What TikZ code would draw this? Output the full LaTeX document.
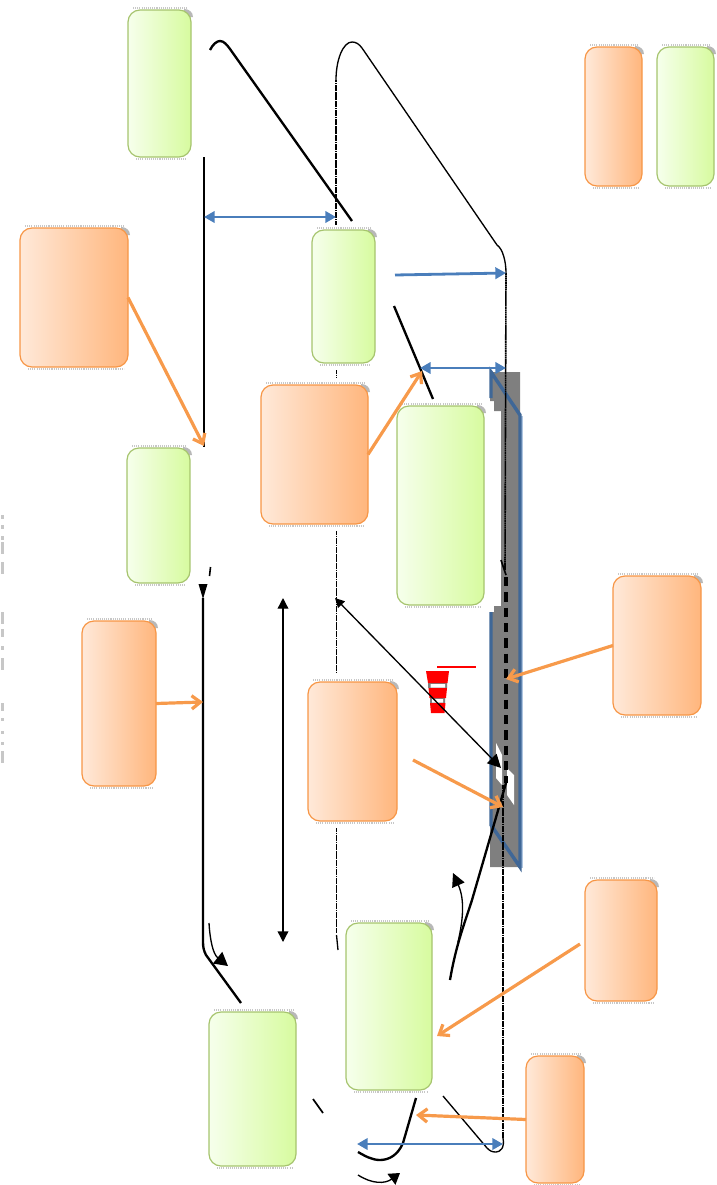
\documentclass[tikz,border=0pt]{standalone}
\usetikzlibrary{arrows.meta,calc}
\definecolor{gleft}{HTML}{F6FFEC}
\definecolor{gright}{HTML}{D7FB9F}
\definecolor{gline}{HTML}{A6C46E}
\definecolor{oleft}{HTML}{FFE9D9}
\definecolor{oright}{HTML}{FFB67D}
\definecolor{oline}{HTML}{F79646}
\definecolor{oarrow}{HTML}{F79A4B}
\definecolor{barrow}{HTML}{4A7EBB}
\definecolor{road}{HTML}{7F7F7F}
\definecolor{roadedge}{HTML}{3F6797}
\tikzset{
  box/.style={rounded corners=9pt,inner sep=0pt,outer sep=0pt,shading=axis,shading angle=90,line width=0.9pt},
  greenbox/.style={box,draw=gline,left color=gleft,right color=gright},
  orangebox/.style={box,draw=oline,left color=oleft,right color=oright},
  shadowline/.style={draw=black!22,line width=1.2pt,dash pattern=on 0.8pt off 0.8pt},
  orangearrow/.style={draw=oarrow,line width=2.4pt,-{Straight Barb[length=6.5pt,width=10pt]}},
  bluearrow/.style={draw=barrow,line width=2.1pt,{Triangle[length=8pt,width=8.5pt]}-{Triangle[length=8pt,width=8.5pt]}},
  bluearrowone/.style={draw=barrow,line width=2.1pt,-{Triangle[length=8pt,width=8.5pt]}},
  thickroad/.style={draw=black,line width=1.75pt},
  thinroad/.style={draw=black,line width=1pt},
  dottedroad/.style={draw=black,line width=1.2pt,dash pattern=on 1.4pt off 0.3pt},
  centerdash/.style={draw=black,line width=2.5pt,dash pattern=on 7pt off 4.5pt},
  roadedgeline/.style={draw=roadedge,line width=2.6pt,line join=miter},
  cone/.style={fill=red,draw=none},
  tickmark/.style={fill=black!22,draw=none},
}
\newcommand{\bx}[6]{%
  \draw[shadowline] (#3+5,#4-2) -- (#5-3,#4-2);
  \draw[shadowline] (#3+8,#6+2) -- (#5-4,#6+2);
  \fill[black!28] (#5-7,#4-1) .. controls (#5-2,#4-1) and (#5+2,#4+2) .. (#5+2,#4+7) -- (#5-2,#4+7) -- (#5-7,#4+3) -- cycle;
  \node[#1,minimum width={(#5-#3)*0.75pt},minimum height={(#6-#4)*0.75pt}] (#2) at ({(#3+#5)/2},{(#4+#6)/2}) {};
}
\begin{document}
\begin{tikzpicture}[x=0.75pt,y=-0.75pt]
\useasboundingbox (0,0) rectangle (717,1185);
% gray marks at the left edge
\foreach \yy/\hh in {517/4,527/4,538/4,548/12,568/12,618/12,633/8,648/4,664/12,707/8,719/3,732/3,743/3,757/12}
  \fill[tickmark] (0.5,\yy-\hh/2) rectangle (3.5,\yy+\hh/2);
% road
\fill[road] (490,372) -- (520,372) -- (520,867) -- (490,867) -- (490,612) -- (494,612) -- (494,606) -- (501,606) -- (501,411) -- (494,411) -- (494,401) -- (490,401) -- cycle;
\fill[white] (496,743) -- (502,755) -- (502,785) -- (496,778) -- cycle;
\fill[white] (507,768) -- (514,775) -- (514,805) -- (507,795) -- cycle;
\draw[draw=barrow!45,line width=0.9pt] (522,416) -- (522,868);
\draw[roadedgeline] (491,398) -- (491,372) -- (520,415) -- (520,867) -- (491,825) -- (491,612);
\draw[centerdash] (506,577) -- (506,783);
% cone
\fill[road] (428,683) rectangle (447,688) (430,698) rectangle (445,703);
\fill[cone] (426,671) -- (449,671) -- (447.5,683) -- (428,683) -- cycle;
\fill[cone] (428.5,688) -- (447,688) -- (446,698) -- (429.5,698) -- cycle;
\fill[cone] (430,703) -- (445.5,703) -- (444.5,713) -- (431,713) -- cycle;
\fill[white] (430.5,684) rectangle (445,687.5) (432,699) rectangle (443,702.5);
\fill[red] (437,666.2) rectangle (476,668.2);
% boxes
\bx{greenbox}{g1}{128}{10}{191}{157}
\bx{greenbox}{g2}{312}{230}{375}{363}
\bx{greenbox}{g3}{397}{406}{484}{605}
\bx{greenbox}{g4}{127}{448}{190}{583}
\bx{greenbox}{g5}{346}{923}{432}{1090}
\bx{greenbox}{g6}{209}{1012}{296}{1166}
\bx{greenbox}{g7}{657}{47}{714}{186}
\bx{orangebox}{o1}{20}{228}{128}{367}
\bx{orangebox}{o2}{261}{385}{368}{524}
\bx{orangebox}{o3}{82}{621}{156}{786}
\bx{orangebox}{o4}{308}{682}{397}{821}
\bx{orangebox}{o5}{613}{576}{701}{715}
\bx{orangebox}{o6}{585}{47}{642}{186}
\bx{orangebox}{o7}{585}{880}{657}{1001}
\bx{orangebox}{o8}{526}{1056}{584}{1183}
% named end points
\coordinate (lroadtop) at (204,157);
\coordinate (lroadend) at (204,447);
\coordinate (lroadh) at (203,584);
\coordinate (lroadb) at (203,598);
\coordinate (lroadc) at (203,942);
\coordinate (lroadd) at (241,1003);
\coordinate (topa) at (210,50);
\coordinate (topb) at (352,221);
\coordinate (topc) at (394,306);
\coordinate (topd) at (433,399);
\coordinate (mida) at (336,225);
\coordinate (midb) at (336,80);
\coordinate (rightb) at (497,245);
\coordinate (rightc) at (506,273);
\coordinate (rightd) at (505,570);
\coordinate (bota) at (503,785);
\coordinate (botb) at (503,1138);
\coordinate (botc) at (443,1096);
\coordinate (ba) at (204,217);
\coordinate (bb) at (336,217);
\coordinate (bc) at (395,275);
\coordinate (bd) at (506,273);
\coordinate (be) at (420,368);
\coordinate (bf) at (506,368);
\coordinate (bg) at (357,1144);
\coordinate (bh) at (503,1144);
\coordinate (oa) at (204,446);
\coordinate (ob) at (422,371);
\coordinate (oc) at (203,702);
\coordinate (od1) at (413,760);
\coordinate (od) at (503,807);
\coordinate (oe) at (506,679);
\coordinate (of1) at (580,944);
\coordinate (of) at (437,1036);
\coordinate (og) at (416,1115);
\coordinate (va) at (283,598);
\coordinate (vb) at (283,942);
\coordinate (da) at (335,598);
\coordinate (db) at (501,768);
% thick roads
\draw[thickroad] (lroadtop) -- (lroadend);
\fill[black] (198.5,584) -- (207.5,584) -- (203,599) -- cycle;
\draw[thickroad] (lroadb) -- (lroadc) .. controls (203,948) and (204,951) .. (206,955) -- (lroadd);
\draw[thickroad] (topa) .. controls (213,44) and (217,41) .. (220,41) .. controls (224,41) and (227,45) .. (230,49) -- (topb);
\draw[thickroad] (topc) -- (topd);
\draw[thickroad,line width=1.2pt] (210.5,567) -- (209.5,576);
\draw[thickroad] (506,783) -- (472,900) .. controls (464,925) and (456,945) .. (450,980);
\draw[thickroad] (416,1098) -- (403,1143) .. controls (398,1155) and (389,1160) .. (380,1160) .. controls (372,1160) and (365,1156) .. (358,1152);
\draw[thickroad,line width=1.3pt] (313,1099) -- (323,1113);
\draw[thickroad,line width=1.2pt] (501,560) -- (506,575);
% thin / dotted roads
\draw[dottedroad] (mida) -- (midb);
\draw[thinroad] (midb) .. controls (336,60) and (343,42) .. (352,42) .. controls (356,42) and (359,44) .. (362,48) -- (rightb) .. controls (503,249) and (506,262) .. (rightc);
\draw[dottedroad] (rightc) -- (rightd);
\draw[dottedroad] (336.5,370) -- (336.5,377);
\draw[dottedroad] (336.5,531) -- (336.5,672);
\draw[dottedroad] (336.5,828) -- (336.5,933);
\draw[thinroad] (336.5,935) -- (338,950);
\draw[dottedroad] (bota) -- (botb);
\draw[thinroad] (botb) .. controls (505,1148) and (500,1152) .. (496,1152) .. controls (492,1152) and (490,1151) .. (487,1148) -- (botc);
% thin curved arrows
\draw[thinroad,-{Triangle[length=10pt,width=11pt]}] (209,923) .. controls (210,940) and (213,954) .. (228,966);
\draw[thinroad,-{Triangle[length=10pt,width=10pt]}] (458,942) .. controls (463,920) and (465,900) .. (453,873);
\draw[thinroad,-{Triangle[length=8pt,width=10pt]}] (358,1175) .. controls (372,1184) and (385,1184) .. (400,1173);
% thin straight arrows
\draw[thinroad,{Triangle[length=8pt,width=8pt]}-{Triangle[length=8pt,width=8pt]}] (va) -- (vb);
\draw[thinroad,{Triangle[length=7pt,width=7pt]}-{Triangle[length=10pt,width=10pt]}] (da) -- (db);
% blue arrows
\draw[bluearrow] (ba) -- (bb);
\draw[bluearrowone] (bc) -- (bd);
\draw[bluearrow] (be) -- (bf);
\draw[bluearrow] (bg) -- (bh);
% orange arrows
\draw[orangearrow] (o1.east) -- (oa);
\draw[orangearrow] (o2.east) -- (ob);
\draw[orangearrow] (o3.east) -- (oc);
\draw[orangearrow] (od1) -- (od);
\draw[orangearrow] (o5.west) -- (oe);
\draw[orangearrow] (of1) -- (of);
\draw[orangearrow] (o8.west) -- (og);
\end{tikzpicture}
\end{document}
